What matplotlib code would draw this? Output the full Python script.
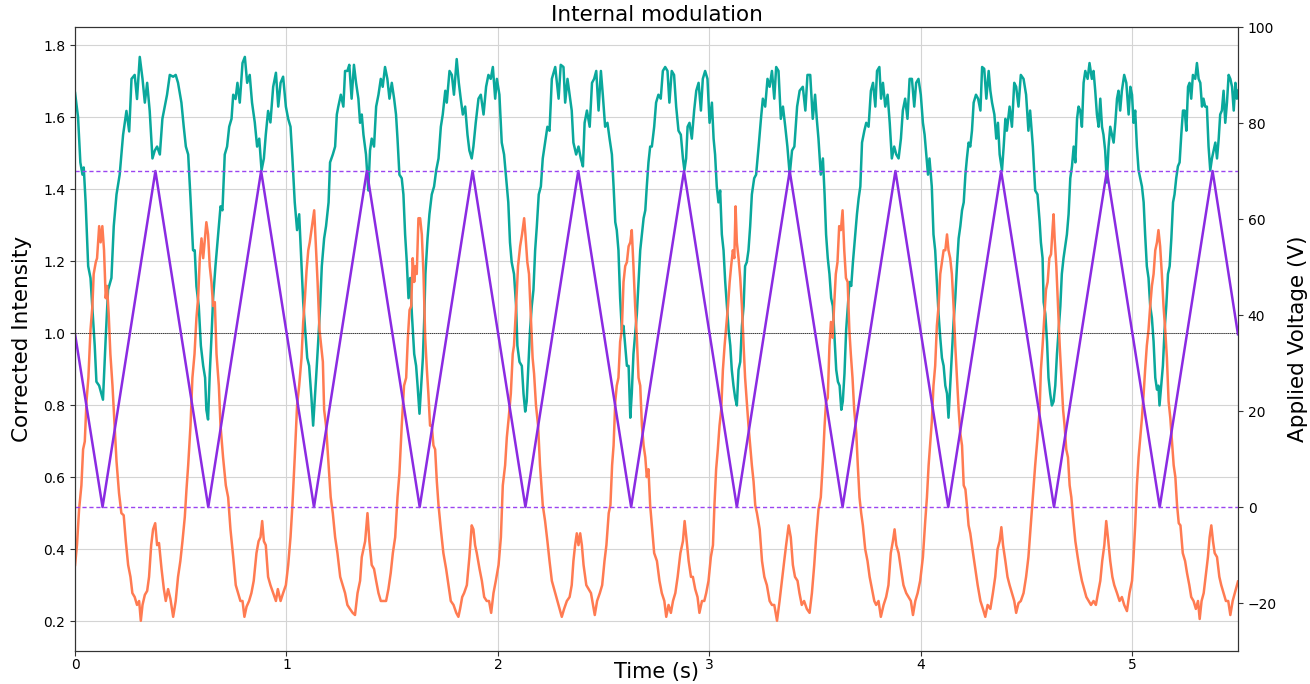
import matplotlib
matplotlib.use("Agg")
import matplotlib.pyplot as plt

# values
teal_time = [
    0.000, 0.014, 0.025, 0.035, 0.041, 0.050, 0.062, 0.073, 0.085, 0.093, 0.101, 0.114, 0.125, 0.132,
    0.145, 0.156, 0.172, 0.183, 0.196, 0.211, 0.227, 0.243, 0.256, 0.267, 0.282, 0.293, 0.306, 0.319,
    0.330, 0.341, 0.353, 0.366, 0.377, 0.388, 0.401, 0.413, 0.424, 0.435, 0.448, 0.464, 0.476, 0.487,
    0.503, 0.514, 0.524, 0.535, 0.546, 0.558, 0.566, 0.574, 0.585, 0.595, 0.606, 0.615, 0.621, 0.629,
    0.637, 0.645, 0.653, 0.664, 0.677, 0.688, 0.697, 0.708, 0.719, 0.729, 0.740, 0.748, 0.759, 0.768,
    0.779, 0.792, 0.803, 0.814, 0.826, 0.837, 0.850, 0.861, 0.871, 0.882, 0.893, 0.902, 0.913, 0.924,
    0.937, 0.950, 0.961, 0.972, 0.984, 0.997, 1.008, 1.019, 1.028, 1.039, 1.050, 1.060, 1.071, 1.079,
    1.087, 1.098, 1.107, 1.118, 1.126, 1.140, 1.151, 1.159, 1.167, 1.178, 1.187, 1.199, 1.206, 1.219,
    1.230, 1.238, 1.245, 1.257, 1.269, 1.277, 1.288, 1.297, 1.308, 1.319, 1.329, 1.340, 1.348, 1.356,
    1.364, 1.376, 1.387, 1.395, 1.403, 1.414, 1.424, 1.435, 1.446, 1.455, 1.466, 1.477, 1.487, 1.498,
    1.509, 1.518, 1.525, 1.534, 1.545, 1.553, 1.561, 1.569, 1.577, 1.585, 1.593, 1.604, 1.613, 1.620,
    1.629, 1.637, 1.645, 1.651, 1.657, 1.667, 1.676, 1.687, 1.698, 1.708, 1.719, 1.730, 1.739, 1.751,
    1.758, 1.771, 1.782, 1.792, 1.805, 1.815, 1.824, 1.834, 1.845, 1.856, 1.865, 1.876, 1.884, 1.895,
    1.908, 1.919, 1.932, 1.944, 1.955, 1.966, 1.976, 1.987, 1.995, 2.007, 2.018, 2.029, 2.039, 2.049,
    2.057, 2.065, 2.076, 2.086, 2.092, 2.102, 2.113, 2.121, 2.129, 2.136, 2.144, 2.152, 2.160, 2.168,
    2.176, 2.184, 2.193, 2.203, 2.212, 2.223, 2.234, 2.244, 2.255, 2.271, 2.287, 2.297, 2.310, 2.318,
    2.329, 2.339, 2.349, 2.357, 2.370, 2.381, 2.392, 2.402, 2.410, 2.421, 2.434, 2.445, 2.455, 2.465,
    2.476, 2.487, 2.496, 2.507, 2.518, 2.528, 2.539, 2.547, 2.555, 2.562, 2.570, 2.578, 2.586, 2.594,
    2.602, 2.610, 2.618, 2.626, 2.633, 2.641, 2.649, 2.657, 2.665, 2.673, 2.681, 2.689, 2.697, 2.704,
    2.712, 2.720, 2.728, 2.739, 2.748, 2.759, 2.770, 2.780, 2.791, 2.802, 2.811, 2.822, 2.833, 2.843,
    2.854, 2.865, 2.875, 2.882, 2.890, 2.897, 2.906, 2.917, 2.928, 2.938, 2.949, 2.960, 2.969, 2.980,
    2.991, 3.001, 3.012, 3.020, 3.027, 3.035, 3.043, 3.051, 3.059, 3.067, 3.075, 3.083, 3.091, 3.099,
    3.106, 3.114, 3.122, 3.130, 3.138, 3.146, 3.154, 3.162, 3.169, 3.177, 3.185, 3.193, 3.201, 3.212,
    3.221, 3.233, 3.244, 3.253, 3.264, 3.275, 3.285, 3.296, 3.307, 3.316, 3.327, 3.338, 3.348, 3.359,
    3.369, 3.380, 3.391, 3.402, 3.415, 3.427, 3.442, 3.454, 3.464, 3.477, 3.489, 3.500, 3.508, 3.516,
    3.527, 3.537, 3.545, 3.552, 3.560, 3.568, 3.576, 3.584, 3.592, 3.600, 3.608, 3.616, 3.624, 3.631,
    3.639, 3.647, 3.655, 3.663, 3.671, 3.679, 3.690, 3.698, 3.706, 3.714, 3.722, 3.733, 3.742, 3.753,
    3.764, 3.774, 3.785, 3.793, 3.804, 3.812, 3.821, 3.832, 3.843, 3.853, 3.863, 3.874, 3.884, 3.895,
    3.906, 3.915, 3.926, 3.937, 3.947, 3.958, 3.969, 3.978, 3.989, 4.000, 4.010, 4.018, 4.026, 4.034,
    4.041, 4.052, 4.060, 4.068, 4.076, 4.084, 4.092, 4.100, 4.108, 4.116, 4.124, 4.131, 4.139, 4.147,
    4.155, 4.163, 4.171, 4.179, 4.187, 4.195, 4.203, 4.211, 4.218, 4.226, 4.234, 4.242, 4.250, 4.261,
    4.271, 4.282, 4.290, 4.300, 4.310, 4.321, 4.329, 4.337, 4.348, 4.357, 4.365, 4.373, 4.384, 4.392,
    4.400, 4.407, 4.420, 4.431, 4.442, 4.451, 4.462, 4.473, 4.486, 4.498, 4.509, 4.517, 4.530, 4.541,
    4.552, 4.562, 4.568, 4.576, 4.581, 4.589, 4.597, 4.604, 4.612, 4.620, 4.628, 4.636, 4.644, 4.652,
    4.660, 4.667, 4.675, 4.683, 4.691, 4.699, 4.707, 4.715, 4.723, 4.731, 4.739, 4.746, 4.754, 4.762,
    4.770, 4.778, 4.789, 4.798, 4.809, 4.817, 4.825, 4.833, 4.841, 4.849, 4.857, 4.864, 4.872, 4.880,
    4.888, 4.896, 4.904, 4.912, 4.920, 4.928, 4.935, 4.943, 4.951, 4.962, 4.972, 4.983, 4.991, 4.999,
    5.006, 5.014, 5.022, 5.030, 5.038, 5.046, 5.054, 5.061, 5.069, 5.077, 5.085, 5.093, 5.101, 5.109,
    5.117, 5.124, 5.129, 5.137, 5.145, 5.153, 5.161, 5.169, 5.177, 5.185, 5.193, 5.200, 5.208, 5.216,
    5.224, 5.232, 5.240, 5.248, 5.256, 5.264, 5.271, 5.279, 5.287, 5.298, 5.306, 5.314, 5.322, 5.330,
    5.337, 5.345, 5.353, 5.361, 5.369, 5.377, 5.385, 5.393, 5.401, 5.409, 5.416, 5.424, 5.432, 5.440,
    5.448, 5.456, 5.464, 5.472, 5.480, 5.488, 5.495, 5.500,
]
teal_intensity = [
    1.667, 1.600, 1.474, 1.440, 1.460, 1.363, 1.186, 1.153, 1.040, 0.965, 0.865, 0.854, 0.830, 0.815,
    0.987, 1.120, 1.153, 1.297, 1.385, 1.440, 1.550, 1.617, 1.560, 1.706, 1.717, 1.650, 1.767, 1.706,
    1.640, 1.695, 1.617, 1.485, 1.507, 1.518, 1.496, 1.595, 1.629, 1.662, 1.717, 1.712, 1.717, 1.695,
    1.640, 1.573, 1.518, 1.496, 1.374, 1.230, 1.230, 1.130, 1.075, 0.965, 0.909, 0.876, 0.787, 0.760,
    0.887, 0.987, 1.097, 1.186, 1.274, 1.352, 1.341, 1.496, 1.518, 1.573, 1.595, 1.662, 1.650, 1.695,
    1.640, 1.750, 1.767, 1.695, 1.717, 1.640, 1.585, 1.518, 1.540, 1.452, 1.485, 1.551, 1.617, 1.585,
    1.684, 1.723, 1.629, 1.695, 1.712, 1.629, 1.595, 1.573, 1.485, 1.363, 1.286, 1.330, 1.186, 1.086,
    1.020, 0.931, 0.909, 0.820, 0.743, 0.876, 0.987, 1.075, 1.186, 1.263, 1.297, 1.363, 1.474, 1.496,
    1.518, 1.607, 1.629, 1.662, 1.629, 1.728, 1.728, 1.745, 1.651, 1.745, 1.695, 1.651, 1.584, 1.607,
    1.551, 1.496, 1.396, 1.507, 1.540, 1.518, 1.629, 1.662, 1.706, 1.684, 1.739, 1.706, 1.651, 1.695,
    1.651, 1.607, 1.540, 1.440, 1.430, 1.385, 1.274, 1.197, 1.097, 1.153, 1.053, 0.942, 0.909, 0.854,
    0.776, 0.854, 0.931, 1.031, 1.164, 1.263, 1.330, 1.385, 1.407, 1.452, 1.485, 1.573, 1.607, 1.673,
    1.640, 1.728, 1.717, 1.662, 1.761, 1.695, 1.651, 1.607, 1.629, 1.551, 1.507, 1.485, 1.518, 1.584,
    1.651, 1.662, 1.607, 1.684, 1.717, 1.706, 1.739, 1.651, 1.706, 1.662, 1.529, 1.496, 1.430, 1.363,
    1.252, 1.197, 1.164, 1.075, 0.965, 0.920, 0.909, 0.832, 0.782, 0.810, 0.909, 1.009, 1.075, 1.120,
    1.230, 1.297, 1.385, 1.407, 1.485, 1.529, 1.573, 1.562, 1.706, 1.739, 1.651, 1.745, 1.739, 1.640,
    1.706, 1.662, 1.618, 1.529, 1.496, 1.518, 1.485, 1.463, 1.584, 1.618, 1.573, 1.695, 1.706, 1.728,
    1.618, 1.728, 1.662, 1.573, 1.584, 1.540, 1.496, 1.407, 1.308, 1.286, 1.230, 1.097, 1.009, 1.020,
    0.965, 0.909, 0.909, 0.765, 0.832, 0.942, 0.998, 1.053, 1.142, 1.230, 1.274, 1.319, 1.341, 1.407,
    1.474, 1.518, 1.518, 1.573, 1.640, 1.662, 1.651, 1.728, 1.739, 1.728, 1.640, 1.728, 1.717, 1.629,
    1.562, 1.551, 1.485, 1.452, 1.485, 1.573, 1.584, 1.540, 1.618, 1.673, 1.695, 1.618, 1.706, 1.728,
    1.706, 1.584, 1.640, 1.540, 1.496, 1.407, 1.363, 1.396, 1.274, 1.230, 1.142, 1.075, 1.009, 0.965,
    0.898, 0.854, 0.820, 0.799, 0.898, 0.920, 1.020, 1.075, 1.186, 1.197, 1.230, 1.297, 1.385, 1.430,
    1.440, 1.518, 1.595, 1.651, 1.629, 1.706, 1.684, 1.728, 1.651, 1.739, 1.728, 1.595, 1.629, 1.573,
    1.518, 1.440, 1.507, 1.518, 1.629, 1.673, 1.684, 1.618, 1.717, 1.717, 1.595, 1.662, 1.595, 1.540,
    1.440, 1.485, 1.385, 1.274, 1.208, 1.164, 1.097, 1.075, 0.987, 0.898, 0.865, 0.854, 0.787, 0.810,
    0.887, 1.009, 1.075, 1.142, 1.131, 1.197, 1.274, 1.330, 1.374, 1.407, 1.529, 1.562, 1.584, 1.573,
    1.673, 1.695, 1.629, 1.728, 1.739, 1.651, 1.695, 1.629, 1.662, 1.584, 1.485, 1.518, 1.496, 1.485,
    1.540, 1.618, 1.651, 1.595, 1.706, 1.706, 1.629, 1.695, 1.706, 1.662, 1.584, 1.551, 1.496, 1.440,
    1.485, 1.407, 1.274, 1.230, 1.142, 1.053, 0.987, 0.931, 0.909, 0.854, 0.832, 0.765, 0.854, 0.942,
    1.031, 1.097, 1.186, 1.263, 1.297, 1.341, 1.363, 1.440, 1.485, 1.529, 1.518, 1.562, 1.640, 1.662,
    1.651, 1.618, 1.739, 1.734, 1.651, 1.728, 1.673, 1.640, 1.607, 1.540, 1.584, 1.496, 1.452, 1.518,
    1.595, 1.562, 1.629, 1.573, 1.695, 1.684, 1.629, 1.717, 1.706, 1.662, 1.562, 1.618, 1.518, 1.396,
    1.385, 1.310, 1.252, 1.208, 1.086, 1.053, 0.976, 0.876, 0.832, 0.799, 0.810, 0.854, 0.942, 1.009,
    1.075, 1.164, 1.208, 1.241, 1.274, 1.330, 1.430, 1.463, 1.518, 1.474, 1.595, 1.629, 1.618, 1.573,
    1.695, 1.728, 1.706, 1.750, 1.706, 1.728, 1.673, 1.607, 1.573, 1.651, 1.573, 1.551, 1.507, 1.418,
    1.518, 1.573, 1.551, 1.529, 1.584, 1.651, 1.673, 1.618, 1.673, 1.717, 1.695, 1.607, 1.684, 1.662,
    1.584, 1.618, 1.518, 1.452, 1.430, 1.407, 1.363, 1.274, 1.186, 1.153, 1.075, 1.042, 0.976, 0.876,
    0.843, 0.854, 0.799, 0.854, 0.909, 1.009, 1.075, 1.164, 1.186, 1.263, 1.363, 1.385, 1.430, 1.463,
    1.474, 1.551, 1.618, 1.618, 1.562, 1.684, 1.695, 1.651, 1.717, 1.706, 1.750, 1.706, 1.695, 1.629,
    1.651, 1.629, 1.629, 1.518, 1.452, 1.485, 1.507, 1.529, 1.485, 1.540, 1.607, 1.618, 1.673, 1.584,
    1.640, 1.717, 1.706, 1.684, 1.618, 1.695, 1.651, 1.673,
]

orange_time = [
    0.000, 0.009, 0.019, 0.030, 0.038, 0.046, 0.054, 0.063, 0.073, 0.082, 0.088, 0.098, 0.104, 0.114,
    0.121, 0.129, 0.137, 0.145, 0.151, 0.159, 0.167, 0.177, 0.185, 0.196, 0.208, 0.219, 0.230, 0.240,
    0.251, 0.262, 0.271, 0.282, 0.293, 0.303, 0.311, 0.319, 0.330, 0.341, 0.350, 0.360, 0.369, 0.379,
    0.388, 0.397, 0.409, 0.420, 0.429, 0.440, 0.451, 0.464, 0.476, 0.487, 0.498, 0.508, 0.519, 0.527,
    0.535, 0.546, 0.555, 0.565, 0.574, 0.582, 0.590, 0.598, 0.606, 0.614, 0.621, 0.629, 0.637, 0.645,
    0.653, 0.661, 0.669, 0.680, 0.688, 0.700, 0.713, 0.724, 0.735, 0.748, 0.760, 0.771, 0.782, 0.792,
    0.801, 0.811, 0.823, 0.834, 0.845, 0.858, 0.868, 0.877, 0.885, 0.893, 0.902, 0.913, 0.924, 0.937,
    0.950, 0.959, 0.972, 0.984, 0.997, 1.008, 1.019, 1.028, 1.039, 1.050, 1.060, 1.071, 1.079, 1.087,
    1.095, 1.103, 1.110, 1.118, 1.131, 1.140, 1.147, 1.156, 1.164, 1.172, 1.178, 1.187, 1.199, 1.209,
    1.219, 1.230, 1.241, 1.254, 1.266, 1.277, 1.288, 1.300, 1.313, 1.324, 1.336, 1.348, 1.356, 1.364,
    1.372, 1.383, 1.392, 1.403, 1.414, 1.424, 1.435, 1.446, 1.458, 1.471, 1.482, 1.493, 1.503, 1.514,
    1.525, 1.534, 1.545, 1.556, 1.566, 1.574, 1.582, 1.590, 1.597, 1.604, 1.610, 1.616, 1.624, 1.632,
    1.640, 1.648, 1.656, 1.664, 1.671, 1.679, 1.687, 1.695, 1.703, 1.711, 1.719, 1.730, 1.742, 1.755,
    1.766, 1.777, 1.790, 1.803, 1.813, 1.821, 1.831, 1.840, 1.853, 1.865, 1.876, 1.884, 1.892, 1.900,
    1.913, 1.924, 1.935, 1.947, 1.958, 1.968, 1.979, 1.990, 2.003, 2.014, 2.023, 2.034, 2.042, 2.051,
    2.061, 2.070, 2.076, 2.086, 2.095, 2.105, 2.114, 2.124, 2.130, 2.139, 2.147, 2.155, 2.164, 2.171,
    2.180, 2.190, 2.199, 2.212, 2.223, 2.234, 2.244, 2.255, 2.271, 2.287, 2.302, 2.313, 2.326, 2.339,
    2.349, 2.357, 2.365, 2.373, 2.381, 2.389, 2.397, 2.405, 2.418, 2.429, 2.440, 2.450, 2.458, 2.469,
    2.482, 2.493, 2.504, 2.513, 2.524, 2.532, 2.540, 2.547, 2.555, 2.562, 2.570, 2.578, 2.586, 2.594,
    2.602, 2.610, 2.618, 2.626, 2.633, 2.641, 2.649, 2.657, 2.665, 2.673, 2.681, 2.689, 2.697, 2.704,
    2.712, 2.720, 2.728, 2.739, 2.752, 2.764, 2.775, 2.787, 2.796, 2.807, 2.818, 2.828, 2.839, 2.850,
    2.863, 2.875, 2.883, 2.891, 2.902, 2.913, 2.922, 2.933, 2.944, 2.953, 2.965, 2.976, 2.985, 2.996,
    3.007, 3.017, 3.024, 3.032, 3.040, 3.048, 3.056, 3.064, 3.072, 3.080, 3.088, 3.096, 3.103, 3.111,
    3.118, 3.124, 3.130, 3.138, 3.146, 3.154, 3.162, 3.169, 3.177, 3.185, 3.193, 3.201, 3.209, 3.217,
    3.225, 3.238, 3.249, 3.260, 3.272, 3.285, 3.296, 3.307, 3.320, 3.332, 3.343, 3.354, 3.363, 3.375,
    3.385, 3.395, 3.405, 3.417, 3.426, 3.437, 3.448, 3.461, 3.474, 3.485, 3.496, 3.505, 3.516, 3.527,
    3.537, 3.545, 3.552, 3.560, 3.568, 3.575, 3.583, 3.590, 3.598, 3.606, 3.614, 3.622, 3.630, 3.638,
    3.646, 3.654, 3.662, 3.669, 3.677, 3.685, 3.695, 3.702, 3.710, 3.718, 3.726, 3.737, 3.748, 3.758,
    3.769, 3.780, 3.789, 3.800, 3.811, 3.824, 3.836, 3.847, 3.858, 3.868, 3.876, 3.884, 3.895, 3.906,
    3.918, 3.931, 3.942, 3.953, 3.963, 3.974, 3.985, 3.997, 4.010, 4.021, 4.029, 4.037, 4.045, 4.052,
    4.060, 4.068, 4.076, 4.084, 4.092, 4.100, 4.108, 4.116, 4.124, 4.131, 4.139, 4.147, 4.155, 4.163,
    4.171, 4.179, 4.187, 4.195, 4.203, 4.211, 4.218, 4.226, 4.234, 4.247, 4.258, 4.269, 4.282, 4.294,
    4.305, 4.316, 4.329, 4.341, 4.352, 4.363, 4.373, 4.381, 4.389, 4.400, 4.410, 4.420, 4.431, 4.442,
    4.451, 4.462, 4.473, 4.486, 4.498, 4.509, 4.520, 4.530, 4.541, 4.552, 4.562, 4.568, 4.576, 4.584,
    4.592, 4.600, 4.608, 4.616, 4.624, 4.628, 4.633, 4.641, 4.649, 4.657, 4.665, 4.673, 4.680, 4.688,
    4.696, 4.704, 4.712, 4.720, 4.731, 4.742, 4.751, 4.762, 4.773, 4.783, 4.794, 4.805, 4.817, 4.828,
    4.838, 4.849, 4.858, 4.868, 4.877, 4.885, 4.896, 4.906, 4.915, 4.928, 4.940, 4.951, 4.962, 4.975,
    4.987, 4.999, 5.006, 5.014, 5.022, 5.030, 5.038, 5.046, 5.054, 5.061, 5.069, 5.077, 5.085, 5.093,
    5.101, 5.109, 5.117, 5.124, 5.132, 5.140, 5.148, 5.156, 5.164, 5.172, 5.180, 5.188, 5.196, 5.204,
    5.212, 5.220, 5.228, 5.239, 5.250, 5.259, 5.270, 5.279, 5.290, 5.301, 5.311, 5.319, 5.328, 5.338,
    5.349, 5.358, 5.366, 5.374, 5.382, 5.390, 5.401, 5.412, 5.421, 5.432, 5.443, 5.454, 5.464, 5.475,
    5.485, 5.495, 5.500,
]
orange_intensity = [
    0.356, 0.411, 0.510, 0.577, 0.677, 0.699, 0.810, 0.876, 1.009, 1.075, 1.164, 1.197, 1.208, 1.297,
    1.252, 1.297, 1.230, 1.097, 1.131, 1.053, 0.942, 0.854, 0.765, 0.644, 0.555, 0.500, 0.494, 0.422,
    0.356, 0.323, 0.278, 0.267, 0.245, 0.256, 0.201, 0.245, 0.273, 0.284, 0.323, 0.411, 0.455, 0.472,
    0.411, 0.417, 0.345, 0.289, 0.256, 0.289, 0.262, 0.212, 0.256, 0.323, 0.367, 0.422, 0.489, 0.566,
    0.633, 0.743, 0.876, 0.942, 1.042, 1.097, 1.208, 1.263, 1.208, 1.263, 1.308, 1.274, 1.186, 1.142,
    1.075, 1.086, 0.942, 0.854, 0.743, 0.655, 0.577, 0.544, 0.455, 0.378, 0.300, 0.278, 0.256, 0.256,
    0.212, 0.240, 0.256, 0.278, 0.312, 0.389, 0.422, 0.433, 0.478, 0.422, 0.411, 0.323, 0.300, 0.278,
    0.256, 0.289, 0.256, 0.278, 0.300, 0.356, 0.433, 0.522, 0.655, 0.799, 0.854, 0.931, 1.031, 1.097,
    1.175, 1.230, 1.252, 1.286, 1.341, 1.230, 1.142, 1.009, 0.965, 0.920, 0.787, 0.743, 0.633, 0.544,
    0.500, 0.433, 0.389, 0.323, 0.300, 0.278, 0.245, 0.234, 0.223, 0.217, 0.278, 0.312, 0.378, 0.400,
    0.422, 0.500, 0.422, 0.356, 0.345, 0.312, 0.278, 0.256, 0.256, 0.256, 0.289, 0.334, 0.389, 0.433,
    0.544, 0.610, 0.743, 0.854, 0.876, 0.987, 1.064, 1.075, 1.208, 1.142, 1.186, 1.164, 1.319, 1.319,
    1.274, 1.164, 0.987, 0.898, 0.832, 0.743, 0.743, 0.688, 0.677, 0.588, 0.522, 0.455, 0.389, 0.345,
    0.300, 0.256, 0.245, 0.223, 0.212, 0.234, 0.267, 0.278, 0.300, 0.378, 0.466, 0.455, 0.411, 0.389,
    0.345, 0.312, 0.267, 0.256, 0.256, 0.223, 0.278, 0.312, 0.356, 0.433, 0.577, 0.633, 0.710, 0.765,
    0.832, 0.942, 0.965, 1.075, 1.186, 1.241, 1.274, 1.319, 1.274, 1.197, 1.164, 1.053, 0.931, 0.887,
    0.799, 0.743, 0.633, 0.522, 0.478, 0.422, 0.367, 0.312, 0.278, 0.245, 0.212, 0.234, 0.256, 0.267,
    0.300, 0.367, 0.411, 0.444, 0.411, 0.444, 0.411, 0.356, 0.300, 0.289, 0.278, 0.245, 0.217, 0.256,
    0.278, 0.300, 0.367, 0.411, 0.500, 0.522, 0.633, 0.688, 0.810, 0.854, 0.876, 0.976, 1.009, 1.142,
    1.186, 1.197, 1.241, 1.252, 1.286, 1.186, 1.075, 0.987, 0.876, 0.854, 0.743, 0.688, 0.655, 0.600,
    0.622, 0.522, 0.466, 0.389, 0.367, 0.312, 0.278, 0.256, 0.212, 0.245, 0.223, 0.256, 0.278, 0.323,
    0.389, 0.422, 0.478, 0.433, 0.367, 0.323, 0.323, 0.289, 0.267, 0.223, 0.256, 0.256, 0.278, 0.312,
    0.378, 0.411, 0.522, 0.622, 0.677, 0.743, 0.787, 0.898, 0.965, 1.020, 1.075, 1.142, 1.186, 1.230,
    1.208, 1.352, 1.252, 1.208, 1.153, 1.075, 0.965, 0.876, 0.810, 0.743, 0.688, 0.633, 0.588, 0.522,
    0.500, 0.455, 0.367, 0.323, 0.300, 0.256, 0.245, 0.245, 0.201, 0.256, 0.312, 0.367, 0.411, 0.466,
    0.433, 0.356, 0.323, 0.312, 0.278, 0.245, 0.256, 0.234, 0.223, 0.278, 0.356, 0.433, 0.510, 0.544,
    0.644, 0.743, 0.810, 0.820, 0.965, 1.031, 0.987, 1.075, 1.164, 1.197, 1.297, 1.286, 1.341, 1.230,
    1.153, 1.142, 1.009, 0.942, 0.876, 0.787, 0.721, 0.633, 0.544, 0.500, 0.466, 0.400, 0.367, 0.323,
    0.289, 0.256, 0.245, 0.256, 0.212, 0.245, 0.267, 0.300, 0.389, 0.422, 0.455, 0.411, 0.389, 0.345,
    0.300, 0.278, 0.267, 0.256, 0.217, 0.256, 0.278, 0.312, 0.378, 0.478, 0.544, 0.633, 0.699, 0.754,
    0.854, 0.909, 1.020, 1.075, 1.164, 1.197, 1.230, 1.230, 1.274, 1.230, 1.208, 1.164, 1.075, 0.965,
    0.876, 0.787, 0.721, 0.688, 0.577, 0.566, 0.522, 0.466, 0.444, 0.389, 0.345, 0.300, 0.256, 0.234,
    0.212, 0.245, 0.234, 0.278, 0.323, 0.400, 0.422, 0.461, 0.411, 0.367, 0.323, 0.300, 0.278, 0.256,
    0.223, 0.250, 0.256, 0.278, 0.323, 0.378, 0.466, 0.544, 0.633, 0.710, 0.787, 0.898, 0.965, 1.042,
    1.120, 1.142, 1.208, 1.219, 1.297, 1.330, 1.263, 1.186, 1.075, 0.965, 0.876, 0.787, 0.743, 0.677,
    0.655, 0.577, 0.544, 0.489, 0.422, 0.378, 0.345, 0.312, 0.289, 0.267, 0.256, 0.245, 0.256, 0.245,
    0.278, 0.312, 0.367, 0.411, 0.478, 0.433, 0.367, 0.323, 0.300, 0.278, 0.256, 0.267, 0.245, 0.228,
    0.278, 0.312, 0.378, 0.466, 0.577, 0.655, 0.710, 0.765, 0.832, 0.898, 0.965, 1.009, 1.075, 1.131,
    1.164, 1.230, 1.252, 1.286, 1.241, 1.164, 1.075, 1.009, 0.931, 0.810, 0.765, 0.699, 0.633, 0.600,
    0.522, 0.472, 0.466, 0.389, 0.367, 0.334, 0.300, 0.267, 0.256, 0.234, 0.256, 0.206, 0.256, 0.278,
    0.334, 0.378, 0.433, 0.466, 0.422, 0.389, 0.378, 0.323, 0.300, 0.278, 0.256, 0.256, 0.217, 0.256,
    0.278, 0.300, 0.310,
]

# triangle voltage: corner times and voltages
voltage_time = [0.0, 0.13, 0.38, 0.63, 0.88, 1.13, 1.38, 1.63, 1.88, 2.13, 2.38, 2.63, 2.88,
                3.13, 3.38, 3.63, 3.88, 4.13, 4.38, 4.63, 4.88, 5.13, 5.38, 5.5]
voltage_values = [36, 0, 70, 0, 70, 0, 70, 0, 70, 0, 70, 0, 70,
                  0, 70, 0, 70, 0, 70, 0, 70, 0, 70, 36]
voltage_limits = [0, 70]

fig, ax = plt.subplots(figsize=(13.1, 6.84), dpi=100)
fig.subplots_adjust(left=0.0573, right=0.945, top=0.9605, bottom=0.0482)

ax.plot(teal_time, teal_intensity, color="#0aa89c", lw=1.8)
ax.plot(orange_time, orange_intensity, color="#ff7b52", lw=1.8)
ax.axhline(1.0, color="black", lw=0.5, ls=(0, (2, 1)))

ax.set_xlim(0, 5.5)
ax.set_ylim(0.117, 1.85)
ax.set_yticks([0.2, 0.4, 0.6, 0.8, 1.0, 1.2, 1.4, 1.6, 1.8])
ax.grid(color="#d4d4d4", lw=0.8)
ax.set_xlabel("Time (s)", fontsize=15, labelpad=-7)
ax.set_ylabel("Corrected Intensity", fontsize=15.5, labelpad=8)
ax.set_title("Internal modulation", fontsize=15.5, pad=4)
ax.tick_params(labelsize=10, length=3.5, color="#333333")
ax.tick_params(axis="x", pad=1.5)

ax2 = ax.twinx()
ax2.plot(voltage_time, voltage_values, color="#8a2be2", lw=1.8)
for v in voltage_limits:
    ax2.axhline(v, color="#9b45f0", lw=1.0, ls=(0, (3, 2)))
ax2.set_ylim(-30, 100)
ax2.set_yticks([-20, 0, 20, 40, 60, 80, 100])
ax2.set_ylabel("Applied Voltage (V)", fontsize=15.5, labelpad=8)
ax2.tick_params(labelsize=10, length=3.5, color="#333333")

for a in (ax, ax2):
    for s in a.spines.values():
        s.set_color("#333333")

fig.savefig("out.png", dpi=100)
